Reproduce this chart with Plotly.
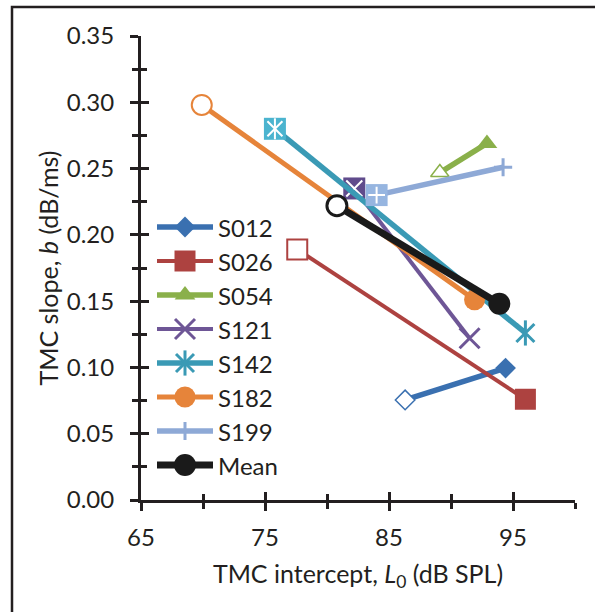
import plotly.graph_objects as go

# ---------------- data ----------------
series = ["S012", "S026", "S054", "S121", "S142", "S182", "S199", "Mean"]
L0_first = [86.3, 77.6, 89.1, 82.2, 75.8, 69.9, 84.0, 80.8]
b_first = [0.0755, 0.189, 0.247, 0.235, 0.280, 0.298, 0.230, 0.222]
L0_second = [94.4, 96.0, 92.9, 91.5, 96.0, 91.9, 94.2, 93.9]
b_second = [0.0995, 0.076, 0.269, 0.122, 0.126, 0.151, 0.251, 0.148]

x_range = [65, 100]
y_range = [0, 0.35]
x_tick_vals = [65, 75, 85, 95]
y_tick_vals = [0.00, 0.05, 0.10, 0.15, 0.20, 0.25, 0.30, 0.35]

# ---------------- styles ----------------
FONT = "Lato"
INK = "#231f20"
W, H = 595, 612
ML, MR, MT, MB = 141, 20, 36, 112
PW, PH = W - ML - MR, H - MT - MB

styles = {
    "S012": dict(color="#3A70B0", width=5.5, kind="outline", sym="diamond", osize=15, fsize=16, olw=1.5),
    "S026": dict(color="#AD4240", width=4, kind="outline", sym="square", osize=20, fsize=21, olw=2),
    "S054": dict(color="#8AB04A", width=5.5, kind="outline", sym="triangle-up", osize=16, fsize=18, olw=1.5),
    "S121": dict(color="#6E5696", width=4, kind="boxed", box="#604B8C", glyph=["x-thin-open"], gsize=16,
                 fsize=20),
    "S142": dict(color="#3A9AB5", width=5.5, kind="boxed", box="#4BB4CF", glyph=["x-thin-open", "line-ns-open"],
                 gsize=15, fsize=18),
    "S182": dict(color="#E6843A", width=5, kind="outline", sym="circle", osize=20, fsize=21, olw=2),
    "S199": dict(color="#8EA9D6", width=5.5, kind="boxed", box="#96B5E0", glyph=["cross-thin-open"], gsize=12,
                 fsize=13),
    "Mean": dict(color="#1A1A1A", width=7, kind="outline", sym="circle", osize=20, fsize=22, olw=3),
}

fig = go.Figure()


def filled_markers(st, xs, ys, xa="x", ya="y"):
    out = []
    if st["kind"] == "outline":
        out.append(go.Scatter(x=xs, y=ys, mode="markers", xaxis=xa, yaxis=ya, showlegend=False,
                              hoverinfo="skip",
                              marker=dict(symbol=st["sym"], size=st["fsize"], color=st["color"],
                                          line=dict(width=0))))
    else:
        for g in st["glyph"]:
            out.append(go.Scatter(x=xs, y=ys, mode="markers", xaxis=xa, yaxis=ya, showlegend=False,
                                  hoverinfo="skip",
                                  marker=dict(symbol=g, size=st["fsize"], color=st["color"],
                                              line=dict(width=3, color=st["color"]))))
    return out


for i, name in enumerate(series):
    st = styles[name]
    xs = [L0_first[i], L0_second[i]]
    ys = [b_first[i], b_second[i]]
    fig.add_trace(go.Scatter(x=xs, y=ys, mode="lines", name=name, showlegend=False,
                             line=dict(color=st["color"], width=st["width"])))
    if st["kind"] == "outline":
        fig.add_trace(go.Scatter(x=[L0_first[i]], y=[b_first[i]], mode="markers", showlegend=False,
                                 marker=dict(symbol=st["sym"], size=st["osize"], color="white",
                                             line=dict(width=st["olw"], color=st["color"]))))
    else:
        fig.add_trace(go.Scatter(x=[L0_first[i]], y=[b_first[i]], mode="markers", showlegend=False,
                                 marker=dict(symbol="square", size=22, color=st["box"],
                                             line=dict(width=0))))
        for g in st["glyph"]:
            fig.add_trace(go.Scatter(x=[L0_first[i]], y=[b_first[i]], mode="markers", showlegend=False,
                                     hoverinfo="skip",
                                     marker=dict(symbol=g, size=st["gsize"], color="white",
                                                 line=dict(width=2, color="white"))))
    for t in filled_markers(st, [L0_second[i]], [b_second[i]]):
        fig.add_trace(t)

# ---------------- manual legend (pixel-like overlay axis x3/y3) ----------------
leg_x0, leg_x1, leg_mx, leg_tx = 16, 72, 44, 75
leg_y0, leg_dy = 191, 34
annotations = []
for i, name in enumerate(series):
    st = styles[name]
    yy = leg_y0 + leg_dy * i
    fig.add_trace(go.Scatter(x=[leg_x0, leg_x1], y=[yy, yy], mode="lines", xaxis="x3", yaxis="y3",
                             showlegend=False, hoverinfo="skip",
                             line=dict(color=st["color"], width=st["width"])))
    for t in filled_markers(st, [leg_mx], [yy], "x3", "y3"):
        fig.add_trace(t)
    annotations.append(dict(x=leg_tx, y=yy, xref="x3", yref="y3", text=name, showarrow=False,
                            xanchor="left", yanchor="middle", font=dict(family=FONT, size=24, color=INK)))

fig.add_trace(go.Scatter(x=[None], y=[None], xaxis="x2", yaxis="y2", showlegend=False, hoverinfo="skip"))

common_axis = dict(showgrid=False, zeroline=False)
fig.update_layout(
    width=W, height=H,
    margin=dict(l=ML, r=MR, t=MT, b=MB, pad=0, autoexpand=False),
    paper_bgcolor="white", plot_bgcolor="white",
    font=dict(family=FONT, size=24, color=INK),
    showlegend=False,
    xaxis=dict(range=x_range, tickmode="array", tickvals=x_tick_vals,
               ticks="outside", ticklen=8, tickwidth=3, tickcolor=INK,
               minor=dict(ticks="outside", ticklen=6, tickwidth=2.5, tickcolor=INK, dtick=5, tick0=65,
                          showgrid=False),
               showline=True, linewidth=3, linecolor=INK, ticklabelstandoff=6,
               title=dict(text="TMC intercept, <i>L</i><sub>0</sub> (dB SPL)", standoff=16,
                          font=dict(size=25)),
               tickfont=dict(size=24), **common_axis),
    yaxis=dict(range=y_range, tickmode="array", tickvals=y_tick_vals, tickformat=".2f",
               ticks="outside", ticklen=8, tickwidth=3, tickcolor=INK,
               minor=dict(ticks="outside", ticklen=6, tickwidth=2.5, tickcolor=INK, dtick=0.025, tick0=0,
                          showgrid=False),
               showline=True, linewidth=3, linecolor=INK, ticklabelstandoff=11,
               title=dict(text="TMC slope, <i>b</i> (dB/ms)", standoff=2, font=dict(size=25)),
               tickfont=dict(size=24), **common_axis),
    xaxis2=dict(range=x_range, overlaying="x", anchor="y2", side="bottom", tickmode="array",
                tickvals=x_tick_vals, ticks="inside", ticklen=8, tickwidth=3, tickcolor=INK,
                minor=dict(ticks="inside", ticklen=6, tickwidth=2.5, tickcolor=INK, dtick=5, tick0=65),
                showticklabels=False, showline=False, **common_axis),
    yaxis2=dict(range=y_range, overlaying="y", anchor="x2", side="left", tickmode="array",
                tickvals=y_tick_vals, ticks="inside", ticklen=8, tickwidth=3, tickcolor=INK,
                minor=dict(ticks="inside", ticklen=6, tickwidth=2.5, tickcolor=INK, dtick=0.025, tick0=0),
                showticklabels=False, showline=False, **common_axis),
    xaxis3=dict(range=[0, PW], overlaying="x", anchor="y3", visible=False, **common_axis),
    yaxis3=dict(range=[PH, 0], overlaying="y", anchor="x3", visible=False, **common_axis),
    annotations=annotations,
    shapes=[dict(type="rect", xref="paper", yref="paper",
                 x0=(12 - ML) / PW, x1=(W + 10 - ML) / PW,
                 y0=(H - MB - 7) / PH, y1=(H - MB - (H + 10)) / PH,
                 line=dict(color=INK, width=2.5), fillcolor="rgba(0,0,0,0)", layer="below")],
)

fig.write_html("out.html", config={"displayModeBar": False},
               post_script="document.body.style.margin='0px';")
